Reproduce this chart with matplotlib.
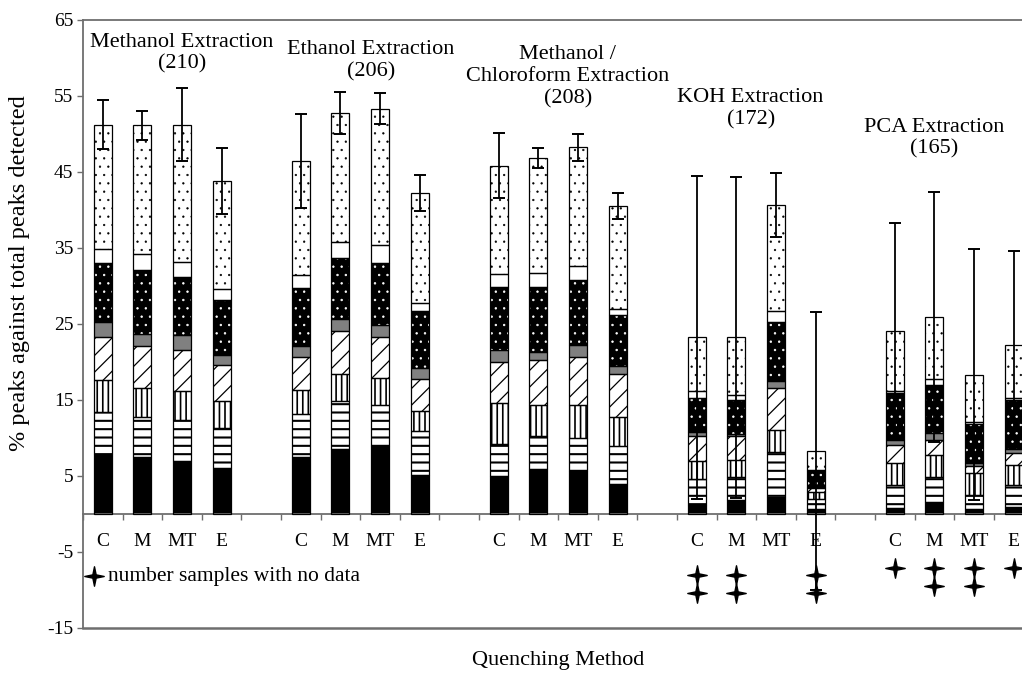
import numpy as np
import matplotlib
matplotlib.use("Agg")
import matplotlib.pyplot as plt
import matplotlib.path as mpath

plt.rcParams['font.family'] = ['Liberation Serif', 'DejaVu Serif']
plt.rcParams['axes.unicode_minus'] = False

# ---------------- data ----------------
groups = ["Methanol Extraction\n(210)", "Ethanol Extraction\n(206)",
          "Methanol /\nChloroform Extraction\n(208)", "KOH Extraction\n(172)",
          "PCA Extraction\n(165)"]
methods = ["C", "M", "MT", "E"]

# segment heights (bottom -> top), 20 bars: 5 groups x (C, M, MT, E)
seg_black = [7.9, 7.5, 7.0, 6.1,  7.5, 8.5, 8.9, 5.1,  5.0, 5.9, 5.6, 4.0,  1.2, 1.8, 2.2, 0.7,  0.8, 1.6, 0.6, 0.9]
seg_hlines = [5.5, 5.3, 5.4, 5.2,  5.7, 6.3, 5.4, 5.8,  4.2, 4.3, 4.4, 4.9,  3.4, 3.1, 6.0, 1.2,  3.0, 3.3, 1.9, 2.9]
seg_vlines = [4.2, 3.7, 3.7, 3.5,  3.1, 3.6, 3.6, 2.6,  5.4, 4.1, 4.3, 3.8,  2.4, 2.2, 2.9, 1.0,  2.9, 2.9, 2.9, 2.6]
seg_diag = [5.6, 5.6, 5.4, 4.8,  4.4, 5.7, 5.3, 4.3,  5.4, 5.9, 6.4, 5.7,  3.3, 3.1, 5.4, 0.5,  2.4, 1.9, 0.9, 1.6]
seg_gray = [2.0, 1.6, 2.0, 1.3,  1.4, 1.5, 1.7, 1.4,  1.6, 1.1, 1.5, 1.0,  0.5, 0.3, 1.0, 0.2,  0.6, 0.9, 0.4, 0.6]
seg_blackdots = [7.8, 8.4, 7.7, 7.2,  7.6, 8.1, 8.1, 7.5,  8.2, 8.5, 8.5, 6.8,  4.5, 4.5, 7.8, 2.0,  6.2, 6.4, 5.1, 6.4]
seg_white = [1.9, 2.1, 1.9, 1.5,  1.7, 2.0, 2.3, 1.1,  1.8, 1.9, 1.9, 0.8,  0.9, 0.6, 1.4, 0.2,  0.3, 0.7, 0.3, 0.2]
seg_whitedots = [16.3, 16.9, 18.1, 14.2,  15.0, 17.0, 18.0, 14.4,  14.2, 15.1, 15.6, 13.5,  7.0, 7.6, 13.9, 2.5,  7.9, 8.2, 6.2, 7.0]
errors = [3.2, 1.9, 4.8, 4.3,  6.2, 2.8, 2.0, 2.4,  4.3, 1.3, 1.8, 1.7,  21.3, 21.1, 4.2, 18.3,  14.1, 16.4, 16.5, 12.4]
no_data_counts = [0, 0, 0, 0,  0, 0, 0, 0,  0, 0, 0, 0,  2, 2, 0, 2,  1, 2, 2, 1]
star_base = [0, 0, 0, -8.0, -7.1]

# title positions (category units, data y)
title_x = [2.0, 6.77, 11.74, 16.36, 21.0]
title_y = [60.6, 59.6, 57.5, 53.3, 49.4]

# ---------------- figure ----------------
fig = plt.figure(figsize=(10.22, 6.73), dpi=100)
ax = fig.add_axes([83 / 1022, 1 - 628 / 673, 950.4 / 1022, 608.4 / 673])

n_per = len(methods)
pos = np.array([g * (n_per + 1) + i for g in range(len(groups)) for i in range(n_per)], dtype=float)
width = 0.45

# (values, face, hatch, hatch colour, hatch linewidth)
layers = [
    (seg_black, 'black', None, 'black', 1.0),
    (seg_hlines, 'white', '--', 'black', 1.5),
    (seg_vlines, 'white', '|||', 'black', 1.2),
    (seg_diag, 'white', '//', 'black', 0.9),
    (seg_gray, '#808080', None, '#808080', 1.0),
    (seg_blackdots, 'black', '..', 'white', 0.5),
    (seg_white, 'white', None, 'white', 1.0),
    (seg_whitedots, 'white', '..', 'black', 0.4),
]

bottom = np.zeros(len(pos))
for vals, fc, hatch, hc, hlw in layers:
    vals = np.array(vals)
    plt.rcParams['hatch.linewidth'] = hlw
    ax.bar(pos, vals, width, bottom=bottom, color=fc, edgecolor=hc, hatch=hatch,
           linewidth=0, zorder=2)
    ax.bar(pos, vals, width, bottom=bottom, fill=False, edgecolor='black',
           linewidth=0.9, zorder=3)
    bottom = bottom + vals

totals = bottom
ax.errorbar(pos, totals, yerr=errors, fmt='none', ecolor='black', elinewidth=1.3,
            capsize=4.5, capthick=1.4, zorder=5)

# star marker
ang = np.arange(8) * np.pi / 4 + np.pi / 2
rad = np.array([1.0, 0.24] * 4)
verts = np.column_stack([rad * np.cos(ang), rad * np.sin(ang)])
verts = np.vstack([verts, verts[:1]])
star = mpath.Path(verts, closed=True)

for k, (x, n) in enumerate(zip(pos, no_data_counts)):
    g = k // n_per
    for j in range(n):
        ax.plot(x, star_base[g] - 2.4 * j, marker=star, color='black', markersize=14,
                linestyle='none', zorder=6, clip_on=False)

# legend for stars
ax.plot(-0.23, -8.2, marker=star, color='black', markersize=14, linestyle='none', zorder=6)
ax.text(0.12, -8.2, "number samples with no data", fontsize=15.5, va='center', ha='left')

# group titles
for t, x, y in zip(groups, title_x, title_y):
    ax.text(x, y, t, fontsize=16, ha='center', va='center', linespacing=1.2)

# axes styling
frame = '#6e6e6e'
ax.set_xlim(-0.5, 23.5)
ax.set_ylim(-15, 65)
ax.set_yticks(np.arange(-15, 66, 10))
ax.tick_params(axis='y', direction='out', length=4, width=1, color=frame, labelsize=14, pad=3)

ax.set_xticks(pos)
ax.set_xticklabels(methods * len(groups))
ax.set_xticks(np.arange(-0.5, 24, 1), minor=True)
ax.tick_params(axis='x', which='major', length=0, labelsize=14, pad=14)
ax.tick_params(axis='x', which='minor', length=4, width=1, color=frame, direction='out')

ax.spines['bottom'].set_position(('data', 0))
for s in ['bottom', 'left', 'top', 'right']:
    ax.spines[s].set_color(frame)
    ax.spines[s].set_linewidth(1.3)
ax.axhline(-15, color=frame, linewidth=1.8, clip_on=False, zorder=1)

ax.set_ylabel("% peaks against total peaks detected", fontsize=17.5)
ax.yaxis.set_label_coords(-0.0555, 0.583)
fig.text(558 / 1022, 1 - 660 / 673, "Quenching Method", fontsize=16, ha='center', va='center')

fig.savefig("out.png", dpi=100)
